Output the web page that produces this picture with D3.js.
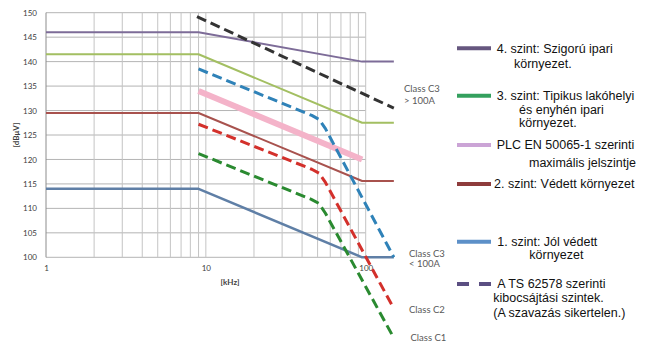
<!DOCTYPE html>
<html>
<head>
<meta charset="utf-8">
<script src="https://cdn.jsdelivr.net/npm/d3@7"></script>
<style>
  html, body { margin: 0; padding: 0; background: #fff; }
  svg { display: block; }
</style>
</head>
<body>
<svg id="chart" width="665" height="355"></svg>
<script>
// ---------- DATA ----------
const xTicks = [1, 10, 100];
const xGrid = [2, 3, 4, 5, 6, 7, 8, 9, 10, 20, 30, 40, 50, 60, 70, 80, 90, 100];
const yTicks = [100, 105, 110, 115, 120, 125, 130, 135, 140, 145, 150];

// solid limit lines [kHz, dBuV]
const level4 = [[1, 146], [9, 146], [95, 140], [150, 140]];
const level3 = [[1, 141.5], [9, 141.5], [95, 127.5], [150, 127.5]];
const level2 = [[1, 129.5], [9, 129.5], [95, 115.6], [150, 115.6]];
const level1 = [[1, 114], [9, 114], [95, 100], [150, 100]];
const plcEN = [[9, 134], [95, 120]];

// TS 62578 dashed lines
const classC3hi = [[8.8, 149.2], [150, 130.5]];
const classC3lo = [[9, 138.5], [46, 129], [51, 128.2], [56, 126.3], [150, 100]];
const classC2 = [[9, 127.2], [46, 118], [51, 117.2], [56, 115.3], [150, 89.5]];
const classC1 = [[9, 121.2], [46, 111.8], [51, 111], [56, 109], [150, 83.5]];

const classLabels = [["Class C3", "> 100A"], ["Class C3", "< 100A"], ["Class C2"], ["Class C1"]];

const legendLabels = [
  ["4. szint: Szigorú ipari", "környezet."],
  ["3. szint: Tipikus lakóhelyi", "és enyhén ipari", "környezet."],
  ["PLC EN 50065-1 szerinti", "maximális jelszintje"],
  ["2. szint: Védett környezet"],
  ["1. szint: Jól védett", "környezet"],
  ["A TS 62578 szerinti", "kibocsájtási szintek.", "(A szavazás sikertelen.)"]
];
const yLabel = "[dBμV]";
const xLabel = "[kHz]";

// ---------- DRAW ----------
const svg = d3.select("#chart");
svg.append("rect").attr("width", 665).attr("height", 355).attr("fill", "#fff");

const x = d3.scaleLog().domain([1, 100]).range([46, 365.7]);
const y = d3.scaleLinear().domain([100, 150]).range([257.3, 12.7]);

const grid = svg.append("g");
grid.selectAll("line.h").data(yTicks).join("line")
  .attr("x1", x(1)).attr("x2", x(100))
  .attr("y1", d => y(d)).attr("y2", d => y(d))
  .attr("stroke", "#b4b4b4").attr("stroke-width", 1);
grid.selectAll("line.v").data(xGrid).join("line")
  .attr("x1", d => x(d)).attr("x2", d => x(d))
  .attr("y1", y(150)).attr("y2", y(100))
  .attr("stroke", "#c4c4c4").attr("stroke-width", 1);
grid.append("line").attr("x1", x(1)).attr("x2", x(1))
  .attr("y1", y(150)).attr("y2", y(100)).attr("stroke", "#8c8c8c");

const axisFont = "Lato, 'Open Sans', sans-serif";
const yAxis = svg.append("g").attr("transform", `translate(${x(1)},0)`)
  .call(d3.axisLeft(y).tickValues(yTicks).tickSize(0).tickPadding(9));
const xAxis = svg.append("g").attr("transform", `translate(0,${y(100)})`)
  .call(d3.axisBottom(x).tickValues(xTicks).tickFormat(d3.format("d")).tickSize(0).tickPadding(7.6));
[yAxis, xAxis].forEach(a => {
  a.select(".domain").remove();
  a.selectAll("text").attr("font-family", axisFont).attr("font-size", 8).attr("fill", "#404040");
});

svg.append("text").attr("transform", `translate(19,135) rotate(-90)`)
  .attr("text-anchor", "middle").attr("font-family", axisFont).attr("font-size", 8)
  .attr("font-weight", "bold").attr("fill", "#404040").text(yLabel);
svg.append("text").attr("x", 230).attr("y", 285)
  .attr("text-anchor", "middle").attr("font-family", axisFont).attr("font-size", 8)
  .attr("font-weight", "bold").attr("fill", "#404040").text(xLabel);

const line = d3.line().x(d => x(d[0])).y(d => y(d[1]));

const series = [
  { d: plcEN, c: "#f4b3c9", w: 6, dash: null },
  { d: level4, c: "#7d6c98", w: 2, dash: null },
  { d: level3, c: "#a3bf62", w: 2, dash: null },
  { d: level2, c: "#a8524e", w: 2, dash: null },
  { d: level1, c: "#5f7fa6", w: 2.5, dash: null },
  { d: classC3hi, c: "#333333", w: 3, dash: "10,5" },
  { d: classC3lo, c: "#2f82b8", w: 3, dash: "10,5" },
  { d: classC2, c: "#d3302b", w: 3, dash: "10,5" },
  { d: classC1, c: "#2a8a30", w: 3, dash: "10,5" }
];
svg.append("g").selectAll("path").data(series).join("path")
  .attr("d", s => line(s.d))
  .attr("fill", "none").attr("stroke", s => s.c).attr("stroke-width", s => s.w)
  .attr("stroke-linejoin", "round")
  .attr("stroke-dasharray", s => s.dash);

// class labels
const classPos = [[404, 89, 12], [409, 253.5, 10], [409, 310, 0], [410.5, 337.7, 0]];
const cl = svg.append("g").attr("font-family", axisFont).attr("font-size", 9.5).attr("fill", "#595959");
classLabels.forEach((lbls, i) => {
  lbls.forEach((t, j) => {
    cl.append("text").attr("x", classPos[i][0]).attr("y", classPos[i][1] + j * classPos[i][2])
      .attr("dy", "0.35em").text(t);
  });
});

// legend
const legendLine = [
  { y: 48.3, c: "#66577f", dash: null },
  { y: 95.7, c: "#34a05e", dash: null },
  { y: 145, c: "#cba4d6", dash: null },
  { y: 184, c: "#8e3c3c", dash: null },
  { y: 241.7, c: "#5d90c8", dash: null },
  { y: 284, c: "#5b4f82", dash: "12,10" }
];
const legendText = [
  [[496.7, 48.3], [514, 63.3]],
  [[496.7, 95.5], [519, 109.3], [519, 123]],
  [[496.7, 145], [529, 163]],
  [[494, 184]],
  [[497.3, 241.5], [529.3, 255]],
  [[497.3, 284], [493.3, 297.5], [493.3, 312.3]]
];
const lg = svg.append("g");
legendLine.forEach((L, i) => {
  lg.append("line").attr("x1", 457).attr("x2", 491).attr("y1", L.y).attr("y2", L.y)
    .attr("stroke", L.c).attr("stroke-width", 4).attr("stroke-dasharray", L.dash);
  legendLabels[i].forEach((t, j) => {
    lg.append("text").attr("x", legendText[i][j][0]).attr("y", legendText[i][j][1])
      .attr("dy", "0.35em").attr("font-family", "'Liberation Sans', Arial, sans-serif")
      .attr("font-size", 12.5).attr("fill", "#111").text(t);
  });
});
</script>
</body>
</html>
